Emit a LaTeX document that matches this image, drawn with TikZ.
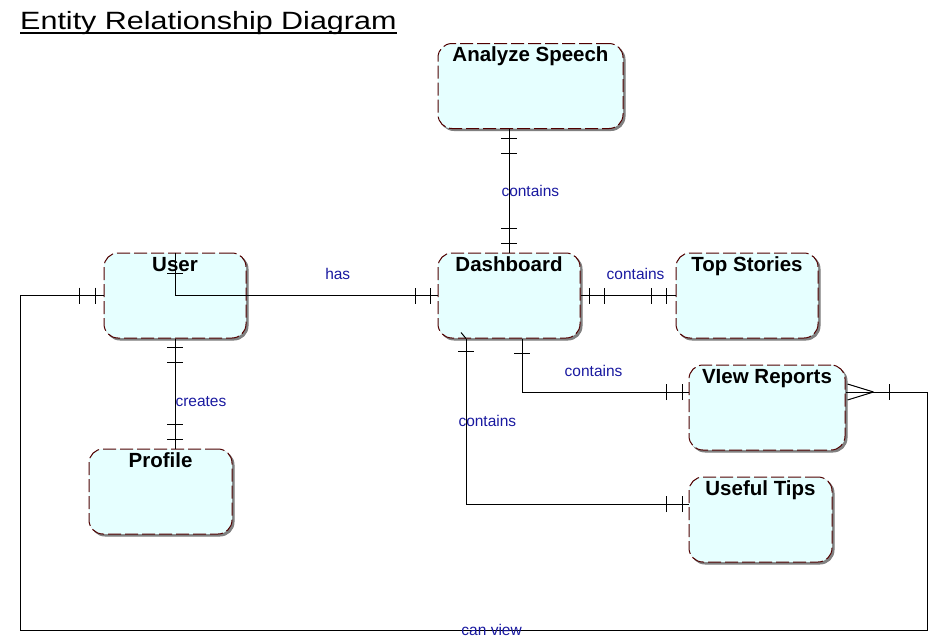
\documentclass[tikz,border=0pt]{standalone}
\usepackage{fontspec}
\setmainfont{Liberation Sans}
\newfontfamily\titlefont[FakeStretch=1.22]{Liberation Sans}
\usepackage{tikz}
\usetikzlibrary{shadows,decorations.markings}

\definecolor{entfill}{RGB}{230,255,255}
\definecolor{entline}{RGB}{80,0,0}
\definecolor{relblue}{RGB}{25,25,160}

\newcommand{\erbar}{\draw[solid] (0pt,-8pt) -- (0pt,8pt);}
\newcommand{\erfoot}{\draw[solid] (0pt,0pt) -- (26pt,8pt) (0pt,0pt) -- (26pt,-8pt);}

\begin{document}
\begin{tikzpicture}[x=1pt,
            y=-1pt,
            entity/.style={rectangle, rounded corners=14pt, draw=entline, fill=entfill,
                           dash pattern=on 13pt off 4pt, line width=1pt,
                           copy shadow={shadow xshift=2pt, shadow yshift=-2pt, draw=gray, fill=gray, solid},
                           minimum width=142pt, inner ysep=5pt, text height=13pt, text depth=62pt,
                           font=\fontsize{20.5}{24}\selectfont\bfseries},
            rel/.style={draw, line width=1pt},
            lbl/.style={text=relblue, font=\fontsize{15.5}{18}\selectfont, inner sep=1pt},
            erbar/.style={postaction={decorate, decoration={markings, mark=at position #1 with {\erbar}}}},
            mandone/.style={erbar=9pt, erbar=24pt, erbar=-9pt, erbar=-24pt}]

        \useasboundingbox (0,0) rectangle (935,640);

        \node[anchor=base west, inner sep=0pt, font=\titlefont\fontsize{25}{30}\selectfont]
              (title) at (20,29) {Entity Relationship Diagram};
        \draw[line width=1.5pt] ([yshift=-4pt]title.base west) -- ([yshift=-4pt]title.base east);

        \node[entity, minimum width=185pt] (speech)  at (530.5,86)    {Analyze Speech};
        \node[entity]                      (user)    at (175,295.5)   {User};
        \node[entity]                      (dash)    at (509,295.5)   {Dashboard};
        \node[entity]                      (stories) at (747,295.5)   {Top Stories};
        \node[entity, minimum width=156pt] (reports) at (767,407.5)   {VIew Reports};
        \node[entity, minimum width=143pt] (tips)    at (760.5,519.5) {Useful Tips};
        \node[entity, minimum width=143pt] (profile) at (160.5,491.5) {Profile};

        \coordinate (cvl) at (20,630);
        \coordinate (cvr) at (927,630);

        \path[rel, mandone] (speech.south -| dash.north) -- (dash.north)
              node[lbl, midway, anchor=west, xshift=-9pt] (lspeech) {contains};
        \path[rel, erbar=21pt, erbar=-7pt, erbar=-22pt] (user.north) |- (dash.west)
              node[lbl, pos=0.81, above=14pt] (lhas) {has};
        \path[rel, mandone] (user.south) -- (user.south |- profile.north)
              node[lbl, pos=0.57, anchor=west, xshift=-1pt] (lcreates) {creates};
        \path[rel, mandone] (dash.east) -- (stories.west)
              node[lbl, pos=0.58, above=14pt] (lstories) {contains};
        \path[rel, erbar=15pt, erbar=-6pt, erbar=-22pt] ([xshift=13pt]dash.south) |- ([yshift=15.5pt]reports.west)
              node[lbl, pos=0.715, above=14pt] (lreports) {contains};
        \path[rel, erbar=13pt, erbar=-6pt, erbar=-22pt] ([xshift=-43pt]dash.south) |- ([yshift=15.5pt]tips.west)
              node[lbl, pos=0.25, anchor=west, xshift=-9pt] (ltips) {contains};
        \draw[rel] ([xshift=-43pt]dash.south) -- ++(-5,-6);
        \path[rel, erbar=8pt, erbar=24pt, erbar=-44pt,
              postaction={decorate, decoration={markings, mark=at position -28pt with {\erfoot}}}]
              (user.west) -| (cvl) -- node[lbl, pos=0.52] (lview) {can view} (cvr) |- ([yshift=15.5pt]reports.east);

    \end{tikzpicture}
\end{document}
